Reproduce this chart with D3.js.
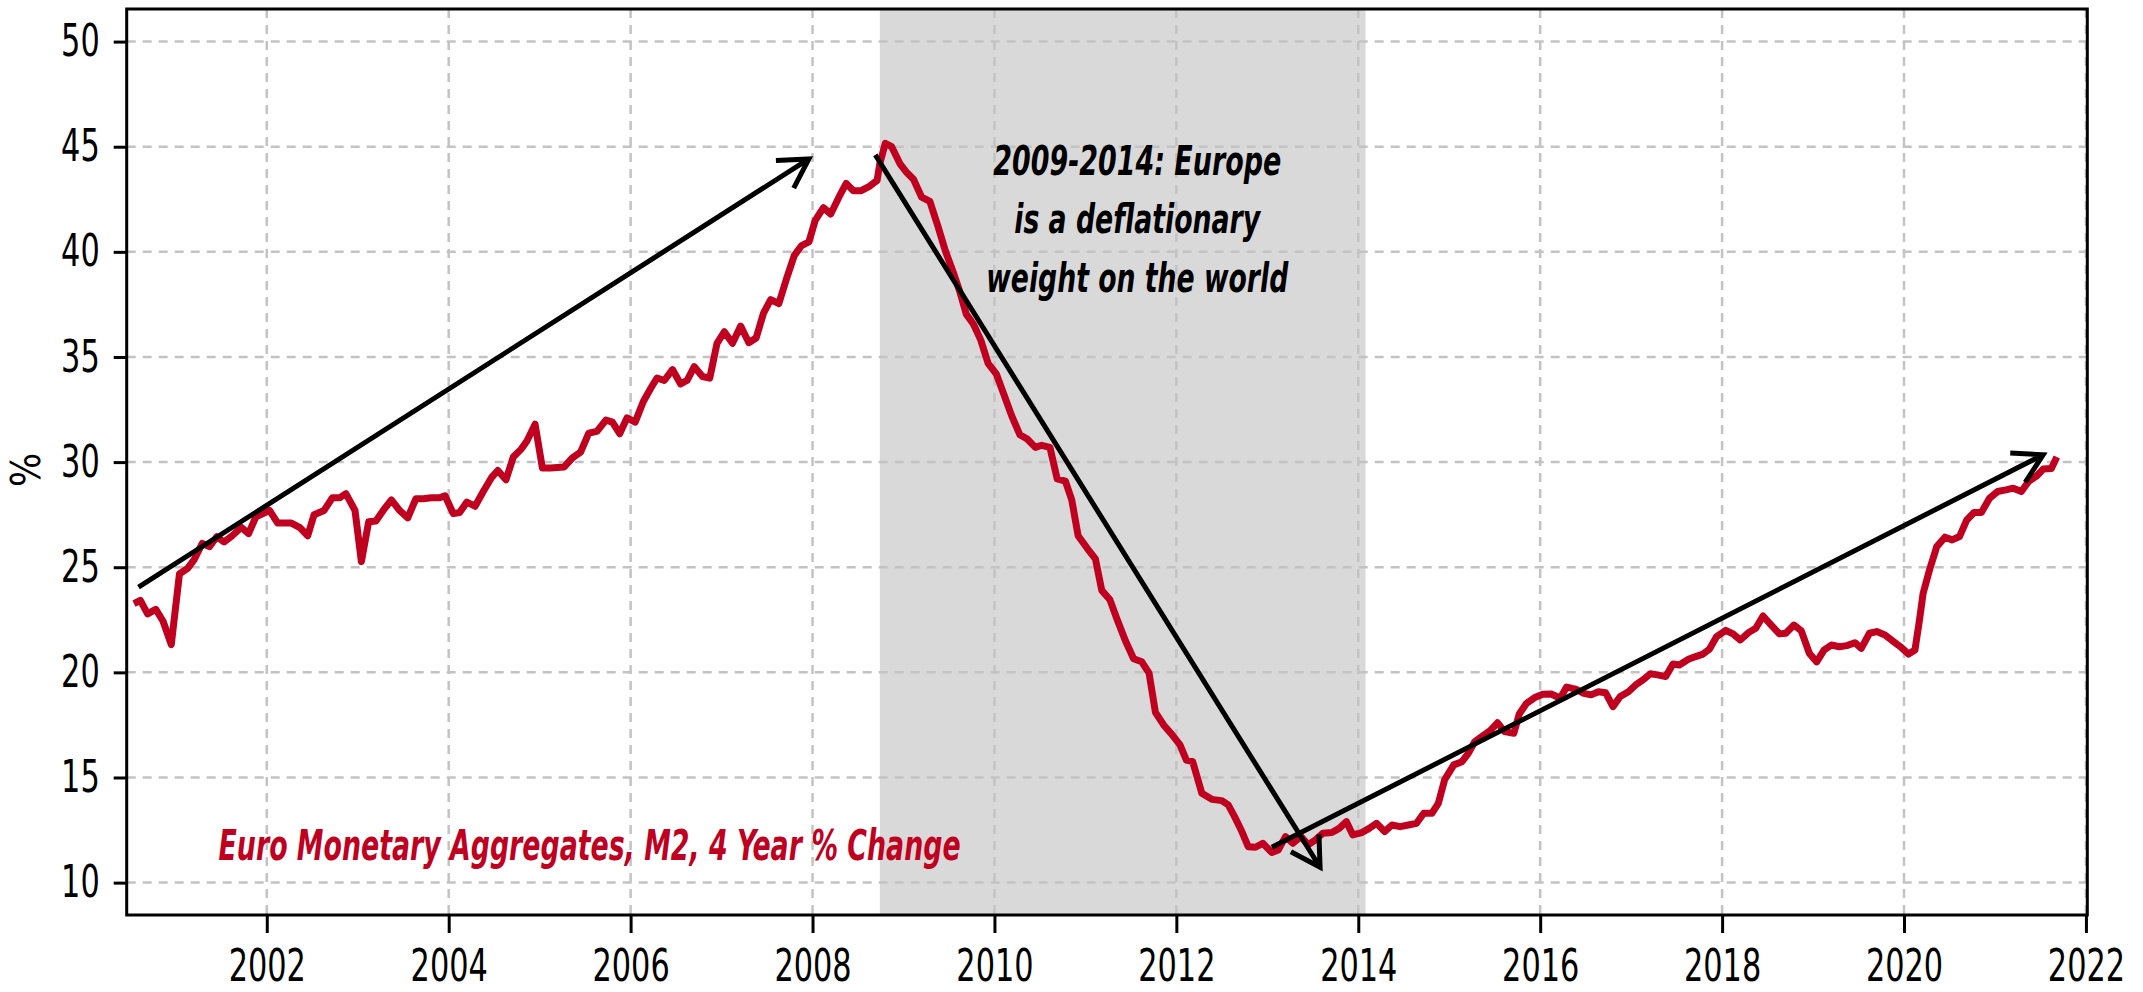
<!DOCTYPE html>
<html>
<head>
<meta charset="utf-8">
<script src="https://cdn.jsdelivr.net/npm/d3@7/dist/d3.min.js"></script>
<style>
  html, body { margin: 0; padding: 0; background: #fff; }
  svg { display: block; }
  text { font-family: "DejaVu Sans Condensed", "DejaVu Sans", sans-serif; font-stretch: condensed; }
</style>
</head>
<body>
<svg id="chart" width="2143" height="992"></svg>
<script>
// ---------------- DATA ----------------
const dates = [
  2000.54, 2000.61, 2000.69, 2000.78, 2000.86, 2000.95, 2001.04, 2001.13, 2001.20, 2001.29,
  2001.37, 2001.45, 2001.53, 2001.62, 2001.72, 2001.80, 2001.88, 2002.03, 2002.12, 2002.27,
  2002.36, 2002.45, 2002.52, 2002.63, 2002.72, 2002.80, 2002.87, 2002.97, 2003.04, 2003.12,
  2003.20, 2003.28, 2003.37, 2003.46, 2003.55, 2003.64, 2003.72, 2003.81, 2003.90, 2003.96,
  2004.05, 2004.12, 2004.20, 2004.29, 2004.38, 2004.47, 2004.54, 2004.63, 2004.71, 2004.80,
  2004.86, 2004.95,
  2005.03, 2005.12, 2005.27, 2005.36, 2005.45, 2005.54, 2005.63, 2005.73, 2005.80, 2005.88,
  2005.96, 2006.05, 2006.14, 2006.22, 2006.29, 2006.37, 2006.46, 2006.55, 2006.62, 2006.70,
  2006.79, 2006.87, 2006.95, 2007.03, 2007.12, 2007.21, 2007.30, 2007.38, 2007.46, 2007.54,
  2007.63, 2007.72, 2007.80, 2007.88, 2007.96, 2008.03, 2008.12, 2008.20, 2008.29, 2008.37,
  2008.45, 2008.53, 2008.62, 2008.71, 2008.74, 2008.80, 2008.87, 2008.96,
  2009.03, 2009.11, 2009.20, 2009.29, 2009.38, 2009.46, 2009.55, 2009.62, 2009.69, 2009.77,
  2009.85, 2009.93, 2010.02, 2010.10, 2010.19, 2010.28, 2010.36, 2010.45, 2010.52, 2010.61,
  2010.69, 2010.78, 2010.85, 2010.92, 2011.02, 2011.11, 2011.18, 2011.27, 2011.35, 2011.44,
  2011.53, 2011.62, 2011.70, 2011.77, 2011.86, 2011.95,
  2012.04, 2012.11, 2012.18, 2012.28, 2012.39, 2012.50, 2012.57, 2012.64, 2012.72, 2012.79,
  2012.87, 2012.95, 2013.05, 2013.12, 2013.20, 2013.28, 2013.37, 2013.45, 2013.53, 2013.61,
  2013.71, 2013.79, 2013.87, 2013.94, 2014.04, 2014.12, 2014.20, 2014.29, 2014.37, 2014.46,
  2014.55, 2014.64, 2014.72, 2014.81, 2014.88, 2014.95, 2015.05, 2015.14, 2015.21, 2015.28,
  2015.38, 2015.45, 2015.53, 2015.61, 2015.71, 2015.77, 2015.85, 2015.94, 2016.03, 2016.12,
  2016.22, 2016.29, 2016.39, 2016.48, 2016.56, 2016.64, 2016.72, 2016.80, 2016.88, 2016.97,
  2017.05, 2017.13,
  2017.21, 2017.29, 2017.38, 2017.46, 2017.53, 2017.63, 2017.71, 2017.79, 2017.86, 2017.94,
  2018.04, 2018.12, 2018.20, 2018.29, 2018.37, 2018.45, 2018.54, 2018.63, 2018.70, 2018.79,
  2018.87, 2018.96, 2019.04, 2019.12, 2019.20, 2019.29, 2019.37, 2019.46, 2019.53, 2019.62,
  2019.70, 2019.79, 2019.87, 2019.96, 2020.05, 2020.12, 2020.17, 2020.21, 2020.28, 2020.36,
  2020.45, 2020.53, 2020.61, 2020.69, 2020.77, 2020.85, 2020.94, 2021.03, 2021.12, 2021.20,
  2021.29, 2021.37, 2021.46, 2021.53, 2021.62, 2021.68
];
const m2Change = [
  23.27, 23.42, 22.78, 23.00, 22.43, 21.32, 24.68, 24.95, 25.35, 26.13,
  25.98, 26.45, 26.20, 26.50, 26.90, 26.60, 27.40, 27.70, 27.10, 27.10,
  26.90, 26.50, 27.50, 27.70, 28.30, 28.30, 28.50, 27.70, 25.27, 27.16,
  27.20, 27.70, 28.20, 27.70, 27.35, 28.26, 28.26, 28.30, 28.30, 28.40,
  27.55, 27.60, 28.10, 27.90, 28.60, 29.26, 29.60, 29.16, 30.24, 30.63,
  31.00, 31.80,
  29.72, 29.72, 29.77, 30.20, 30.47, 31.38, 31.46, 32.00, 31.90, 31.35,
  32.10, 31.90, 32.88, 33.50, 34.00, 33.88, 34.40, 33.72, 33.88, 34.54,
  34.07, 33.99, 35.65, 36.20, 35.65, 36.47, 35.68, 35.90, 37.07, 37.73,
  37.54, 38.80, 39.83, 40.30, 40.47, 41.50, 42.10, 41.80, 42.60, 43.26,
  42.90, 42.90, 43.10, 43.40, 44.20, 45.16, 45.00, 44.20,
  43.80, 43.45, 42.60, 42.40, 41.20, 40.05, 39.00, 38.10, 37.04, 36.56,
  35.80, 34.70, 34.20, 33.26, 32.20, 31.30, 31.10, 30.70, 30.80, 30.70,
  29.20, 29.10, 28.20, 26.50, 25.90, 25.40, 23.90, 23.45, 22.50, 21.50,
  20.65, 20.50, 19.96, 18.10, 17.50, 17.05,
  16.55, 15.83, 15.75, 14.25, 13.96, 13.90, 13.70, 13.14, 12.43, 11.71,
  11.68, 11.87, 11.43, 11.55, 12.19, 11.87, 12.19, 11.80, 12.03, 12.35,
  12.38, 12.58, 12.90, 12.27, 12.38, 12.58, 12.82, 12.43, 12.74, 12.66,
  12.74, 12.82, 13.30, 13.30, 13.77, 14.90, 15.60, 15.75, 16.15, 16.70,
  17.02, 17.23, 17.60, 17.18, 17.10, 18.02, 18.53, 18.80, 18.96, 18.97,
  18.77, 19.30, 19.20, 19.00, 18.93, 19.08, 19.03, 18.37, 18.85, 19.08,
  19.40, 19.64,
  19.93, 19.88, 19.80, 20.40, 20.35, 20.62, 20.75, 20.87, 21.10, 21.70,
  22.00, 21.83, 21.54, 21.89, 22.10, 22.68, 22.25, 21.83, 21.86, 22.25,
  21.98, 20.90, 20.50, 21.06, 21.30, 21.22, 21.27, 21.41, 21.14, 21.86,
  21.94, 21.78, 21.51, 21.22, 20.87, 21.06, 22.49, 23.76, 24.87, 25.98,
  26.43, 26.30, 26.46, 27.25, 27.60, 27.60, 28.28, 28.60, 28.68, 28.76,
  28.60, 29.08, 29.35, 29.67, 29.70, 30.24
];

// shaded period (fractional years)
const shadePeriod = [2008.74, 2014.08];

// arrows: start year, start value, end year, end value
const arrowStartX = [2000.59, 2008.69, 2013.05];
const arrowStartY = [24.05, 44.61, 11.68];
const arrowEndX   = [2007.96, 2013.58, 2021.53];
const arrowEndY   = [44.42, 10.73, 30.35];

const xTicks = [2002, 2004, 2006, 2008, 2010, 2012, 2014, 2016, 2018, 2020, 2022];
const yTicks = [10, 15, 20, 25, 30, 35, 40, 45, 50];

const yAxisTitle = "%";
const seriesLabel = "Euro Monetary Aggregates, M2, 4 Year % Change";
const noteLines = ["2009-2014: Europe", "is a deflationary", "weight on the world"];
const noteAnchor = [2011.57, 43.66];   // centre x, first baseline
const seriesLabelAnchor = [2001.47, 11.08];

// ---------------- LAYOUT ----------------
(function () {
const svg = d3.select("#chart");
const pL = 126.7, pR = 2087.3, pT = 9, pB = 915;
const x = d3.scaleLinear().domain([2000.46, 2022.015]).range([pL, pR]);
const y = d3.scaleLinear().domain([8.46, 51.55]).range([pB, pT]);

const red = "#c0001f";
const gridColor = "#c3c3c3";
const digitW = 19.3;
const fam = '"DejaVu Sans Condensed", "DejaVu Sans", sans-serif';

// shading
svg.append("rect")
  .attr("x", x(shadePeriod[0]))
  .attr("y", pT)
  .attr("width", x(shadePeriod[1]) - x(shadePeriod[0]))
  .attr("height", pB - pT)
  .attr("fill", "#d9d9d9");

// grid
const grid = svg.append("g");
grid.selectAll("line.h").data(yTicks).join("line").attr("class", "h")
  .attr("x1", pL).attr("x2", pR)
  .attr("y1", d => y(d)).attr("y2", d => y(d))
  .attr("stroke", gridColor).attr("stroke-width", 2.5)
  .attr("stroke-dasharray", "9,7");
grid.selectAll("line.v").data(xTicks).join("line").attr("class", "v")
  .attr("x1", d => x(d)).attr("x2", d => x(d))
  .attr("y1", pT).attr("y2", pB)
  .attr("stroke", gridColor).attr("stroke-width", 2.5)
  .attr("stroke-dasharray", "9,7");

// axes
const yAxis = d3.axisLeft(y).tickValues(yTicks).tickSize(13).tickPadding(14).tickFormat(d3.format("d"));
const gy = svg.append("g").attr("transform", `translate(${pL},0)`).call(yAxis);
gy.select(".domain").remove();
gy.selectAll(".tick line").attr("stroke", "#000").attr("stroke-width", 3);
gy.selectAll(".tick text").attr("font-size", 44).attr("fill", "#000")
  .attr("font-family", null).style("font-family", fam)
  .attr("textLength", d => String(d).length * digitW).attr("lengthAdjust", "spacingAndGlyphs");

const xAxis = d3.axisBottom(x).tickValues(xTicks).tickSize(18).tickPadding(17).tickFormat(d3.format("d"));
const gx = svg.append("g").attr("transform", `translate(0,${pB})`).call(xAxis);
gx.select(".domain").remove();
gx.selectAll(".tick line").attr("stroke", "#000").attr("stroke-width", 3);
gx.selectAll(".tick text").attr("font-size", 44).attr("fill", "#000")
  .attr("font-family", null).style("font-family", fam)
  .attr("textLength", d => String(d).length * digitW).attr("lengthAdjust", "spacingAndGlyphs");

// y axis title
svg.append("text")
  .attr("transform", `translate(40,${(pT + pB) / 2 + 8}) rotate(-90)`)
  .attr("text-anchor", "middle")
  .attr("font-size", 40)
  .text(yAxisTitle);

// series line
const series = dates.map((d, i) => [d, m2Change[i]]);
svg.append("path")
  .datum(series)
  .attr("fill", "none")
  .attr("stroke", red)
  .attr("stroke-width", 7)
  .attr("stroke-linejoin", "round")
  .attr("d", d3.line().x(d => x(d[0])).y(d => y(d[1])));

// arrows
const headLen = 33, headAng = Math.PI / 6;
arrowStartX.forEach((sx, i) => {
  const x0 = x(sx), y0 = y(arrowStartY[i]), x1 = x(arrowEndX[i]), y1 = y(arrowEndY[i]);
  const ang = Math.atan2(y1 - y0, x1 - x0);
  const a1 = ang + Math.PI - headAng, a2 = ang + Math.PI + headAng;
  const p = d3.path();
  p.moveTo(x0, y0); p.lineTo(x1, y1);
  p.moveTo(x1 + headLen * Math.cos(a1), y1 + headLen * Math.sin(a1));
  p.lineTo(x1, y1);
  p.lineTo(x1 + headLen * Math.cos(a2), y1 + headLen * Math.sin(a2));
  svg.append("path").attr("d", p.toString())
    .attr("fill", "none").attr("stroke", "#000").attr("stroke-width", 5)
    .attr("stroke-linejoin", "miter");
});

// annotation
const noteWidths = [288, 246, 302];
const note = svg.append("text")
  .attr("font-size", 41).attr("font-weight", "bold").attr("font-style", "italic")
  .attr("text-anchor", "middle").attr("fill", "#000");
noteLines.forEach((t, i) => {
  note.append("tspan").attr("x", x(noteAnchor[0])).attr("y", y(noteAnchor[1]) + i * 58.5)
    .attr("textLength", noteWidths[i]).attr("lengthAdjust", "spacingAndGlyphs")
    .text(t);
});

// series label
svg.append("text")
  .attr("x", x(seriesLabelAnchor[0])).attr("y", y(seriesLabelAnchor[1]))
  .attr("font-size", 42).attr("font-style", "italic").attr("font-weight", 600)
  .attr("fill", red)
  .attr("textLength", 742).attr("lengthAdjust", "spacingAndGlyphs")
  .text(seriesLabel);

// frame
svg.append("rect")
  .attr("x", pL).attr("y", pT)
  .attr("width", pR - pL).attr("height", pB - pT)
  .attr("fill", "none").attr("stroke", "#000").attr("stroke-width", 3);
})();
</script>
</body>
</html>
